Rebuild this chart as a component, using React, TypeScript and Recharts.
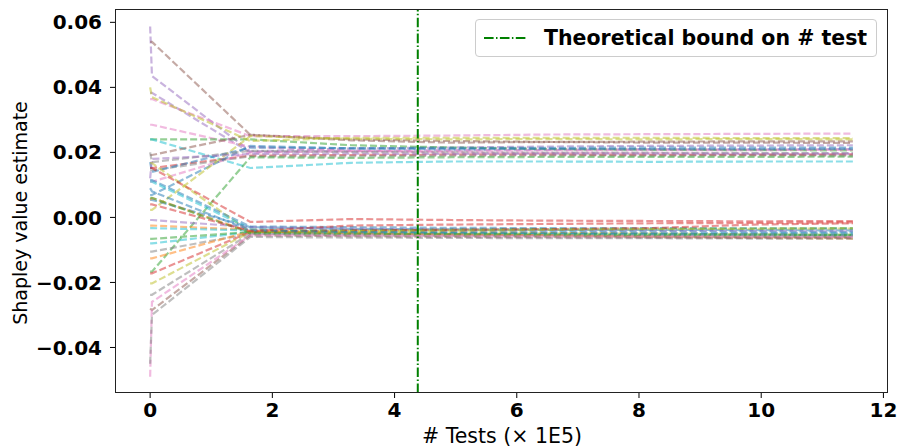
import React from 'react';
import { LineChart, Line, XAxis, YAxis, ReferenceLine } from 'recharts';

// x positions of the estimates (units of 1E5 tests)
const xs = [0, 0.03, 1.64, 3.29, 4.93, 6.57, 8.21, 9.86, 11.5];

// features converging to ~0.02
const upperSeries: number[][] = [
  [0.0587, 0.0435, 0.0203, 0.0212, 0.0215, 0.0218, 0.022, 0.0221, 0.0222],
  [0.054, 0.054, 0.0254, 0.024, 0.0235, 0.0232, 0.023, 0.023, 0.0229],
  [0.0383, 0.0383, 0.02, 0.0205, 0.0207, 0.0208, 0.021, 0.0209, 0.021],
  [0.0364, 0.0364, 0.025, 0.025, 0.0252, 0.0255, 0.0256, 0.0257, 0.0258],
  [0.0285, 0.0285, 0.0217, 0.0205, 0.02, 0.0198, 0.0197, 0.0195, 0.0195],
  [0.024, 0.024, 0.024, 0.0222, 0.0215, 0.021, 0.0208, 0.0207, 0.0206],
  [0.024, 0.024, 0.0152, 0.0168, 0.0172, 0.0172, 0.0171, 0.0172, 0.0172],
  [0.0192, 0.0192, 0.0254, 0.0237, 0.023, 0.0232, 0.0233, 0.0234, 0.0234],
  [0.0152, 0.0152, 0.019, 0.0192, 0.0193, 0.0193, 0.0192, 0.0192, 0.0193],
  [0.0145, 0.0145, 0.0188, 0.0188, 0.019, 0.0191, 0.019, 0.0191, 0.019],
  [0.011, 0.011, 0.02, 0.0203, 0.0205, 0.0206, 0.0207, 0.0207, 0.0208],
  [0.0069, 0.0069, 0.022, 0.0212, 0.021, 0.0211, 0.021, 0.021, 0.0211],
  [0.0023, 0.0023, 0.025, 0.0242, 0.024, 0.0241, 0.024, 0.0241, 0.024],
  [-0.0167, -0.0167, 0.0185, 0.0183, 0.0185, 0.0186, 0.0186, 0.0186, 0.0187],
  [0.017, 0.014, 0.0215, 0.0213, 0.0214, 0.0214, 0.0215, 0.0215, 0.0215],
  [0.02, 0.017, 0.0205, 0.0201, 0.02, 0.0199, 0.0199, 0.0198, 0.0198],
  [0.012, 0.018, 0.0195, 0.0196, 0.0195, 0.0196, 0.0196, 0.0196, 0.0196],
  [0.04, 0.037, 0.0235, 0.0245, 0.0245, 0.0245, 0.0245, 0.0244, 0.0244],
];
const upperColors = ['#9467bd', '#8c564b', '#9467bd', '#e377c2', '#e377c2', '#2ca02c', '#17becf', '#8c564b', '#d62728',
  '#7f7f7f', '#e377c2', '#1f77b4', '#bcbd22', '#2ca02c', '#1f77b4', '#7f7f7f', '#9467bd', '#bcbd22'];

// features converging to ~-0.004
const lowerSeries: number[][] = [
  [0.0167, 0.0167, -0.0045, -0.0045, -0.0047, -0.0048, -0.005, -0.0052, -0.0053],
  [0.0152, 0.0152, -0.0014, -0.0005, -0.0008, -0.001, -0.0011, -0.0012, -0.0011],
  [0.0115, 0.0115, -0.0028, -0.003, -0.0032, -0.0033, -0.0033, -0.0034, -0.0035],
  [0.011, 0.011, -0.0035, -0.0038, -0.004, -0.0041, -0.0042, -0.0043, -0.0045],
  [0.0054, 0.0054, -0.003, -0.0035, -0.0037, -0.0038, -0.0038, -0.0039, -0.004],
  [0.0054, 0.006, -0.0045, -0.005, -0.0053, -0.0055, -0.0058, -0.006, -0.0062],
  [-0.0008, -0.0008, -0.003, -0.0035, -0.0038, -0.004, -0.0041, -0.0042, -0.0043],
  [-0.0025, -0.0025, -0.0038, -0.0042, -0.0045, -0.0048, -0.005, -0.0052, -0.0055],
  [-0.0033, -0.0033, -0.004, -0.0045, -0.0048, -0.005, -0.0051, -0.0052, -0.0053],
  [-0.008, -0.008, -0.0045, -0.0048, -0.005, -0.0052, -0.0053, -0.0055, -0.0056],
  [-0.0066, -0.0066, -0.0045, -0.004, -0.0038, -0.0036, -0.0035, -0.0034, -0.0033],
  [-0.0105, -0.0105, -0.005, -0.0052, -0.0053, -0.0054, -0.0055, -0.0055, -0.0056],
  [-0.0126, -0.0126, -0.0043, -0.0048, -0.0052, -0.0055, -0.006, -0.0063, -0.0065],
  [-0.0172, -0.0172, -0.0045, -0.004, -0.0038, -0.0036, -0.0033, -0.0022, -0.0018],
  [-0.0203, -0.0203, -0.0045, -0.0042, -0.004, -0.0038, -0.0036, -0.0035, -0.0034],
  [-0.0238, -0.0238, -0.005, -0.0055, -0.0057, -0.0058, -0.0059, -0.006, -0.006],
  [-0.028, -0.0285, -0.0055, -0.0058, -0.006, -0.0061, -0.0062, -0.0063, -0.0063],
  [-0.049, -0.026, -0.0055, -0.0056, -0.0057, -0.0058, -0.0058, -0.0059, -0.006],
  [-0.045, -0.03, -0.006, -0.0062, -0.0063, -0.0064, -0.0064, -0.0065, -0.0065],
  [0.009, 0.008, -0.004, -0.0045, -0.0046, -0.0047, -0.0048, -0.0048, -0.0049],
  [0.006, 0.006, -0.0048, -0.005, -0.0051, -0.0052, -0.0053, -0.0053, -0.0054],
  [0.004, 0.004, -0.0042, -0.0025, -0.0022, -0.002, -0.0018, -0.0017, -0.0015],
];
const lowerColors = ['#bcbd22', '#d62728', '#1f77b4', '#17becf', '#1f77b4', '#ff7f0e', '#9467bd', '#ff7f0e', '#17becf',
  '#17becf', '#2ca02c', '#7f7f7f', '#ff7f0e', '#d62728', '#bcbd22', '#7f7f7f', '#8c564b', '#e377c2', '#7f7f7f',
  '#1f77b4', '#2ca02c', '#d62728'];

const xTicks = [0, 2, 4, 6, 8, 10, 12];
const yTicks = [-0.04, -0.02, 0, 0.02, 0.04, 0.06];
const boundX = 4.38;

const allSeries = [...upperSeries, ...lowerSeries];
const allColors = [...upperColors, ...lowerColors];

const data = xs.map((x, i) => {
  const row: Record<string, number> = { x };
  allSeries.forEach((s, k) => { row[`s${k}`] = s[i]; });
  return row;
});

const font = '"DejaVu Sans", sans-serif';
const tickStyle = { fill: '#000', fontSize: 20, fontWeight: 700, fontFamily: font };

const fmtY = (v: number) => (v < 0 ? '\u2212' : '') + Math.abs(v).toFixed(2);

export default function App() {
  return (
    <div style={{ position: 'absolute', left: 0, top: 0, width: 898, height: 447, background: '#fff', fontFamily: font }}>
      <LineChart width={898} height={447} data={data} margin={{ top: 9, right: 10, left: 0, bottom: 0 }}>
        <XAxis
          type="number"
          dataKey="x"
          domain={[-0.575, 12.075]}
          ticks={xTicks}
          allowDataOverflow
          axisLine={false}
          tickLine={{ stroke: '#000' }}
          tickSize={5}
          tickMargin={5}
          height={54}
          tick={tickStyle}
        />
        <YAxis
          type="number"
          domain={[-0.054, 0.0641]}
          ticks={yTicks}
          allowDataOverflow
          axisLine={false}
          tickLine={{ stroke: '#000' }}
          tickSize={5}
          tickMargin={8}
          width={115}
          tick={tickStyle}
          tickFormatter={fmtY}
        />
        {allSeries.map((_, k) => (
          <Line
            key={k}
            type="linear"
            dataKey={`s${k}`}
            stroke={allColors[k]}
            strokeOpacity={0.5}
            strokeWidth={2.2}
            strokeDasharray="7 3"
            dot={false}
            isAnimationActive={false}
          />
        ))}
        <ReferenceLine x={boundX} stroke="#008000" strokeWidth={2} strokeDasharray="9.6 2.4 1.5 2.4" />
      </LineChart>

      {/* frame */}
      <div style={{ position: 'absolute', left: 115, top: 9, width: 773, height: 384, border: '1px solid #222', boxSizing: 'border-box', pointerEvents: 'none' }} />

      {/* legend */}
      <div style={{ position: 'absolute', left: 475, top: 19, width: 402, height: 38, boxSizing: 'border-box', border: '1px solid #ccc', borderRadius: 4, background: 'rgba(255,255,255,0.8)', display: 'flex', alignItems: 'center' }}>
        <svg width={62} height={20} style={{ marginLeft: 6 }}>
          <line x1={2} y1={10} x2={44} y2={10} stroke="#008000" strokeWidth={2} strokeDasharray="9.6 2.4 1.5 2.4" />
        </svg>
        <span style={{ fontSize: 20.5, fontWeight: 700, color: '#000', whiteSpace: 'nowrap' }}>Theoretical bound on # test</span>
      </div>

      {/* axis titles */}
      <div style={{ position: 'absolute', left: 20, top: 213, transform: 'translate(-50%, -50%) rotate(-90deg)', fontSize: 19, whiteSpace: 'nowrap', color: '#000' }}>
        Shapley value estimate
      </div>
      <div style={{ position: 'absolute', left: 502, top: 436, transform: 'translate(-50%, -50%)', fontSize: 20.5, whiteSpace: 'nowrap', color: '#000' }}>
        # Tests (× 1E5)
      </div>
    </div>
  );
}
